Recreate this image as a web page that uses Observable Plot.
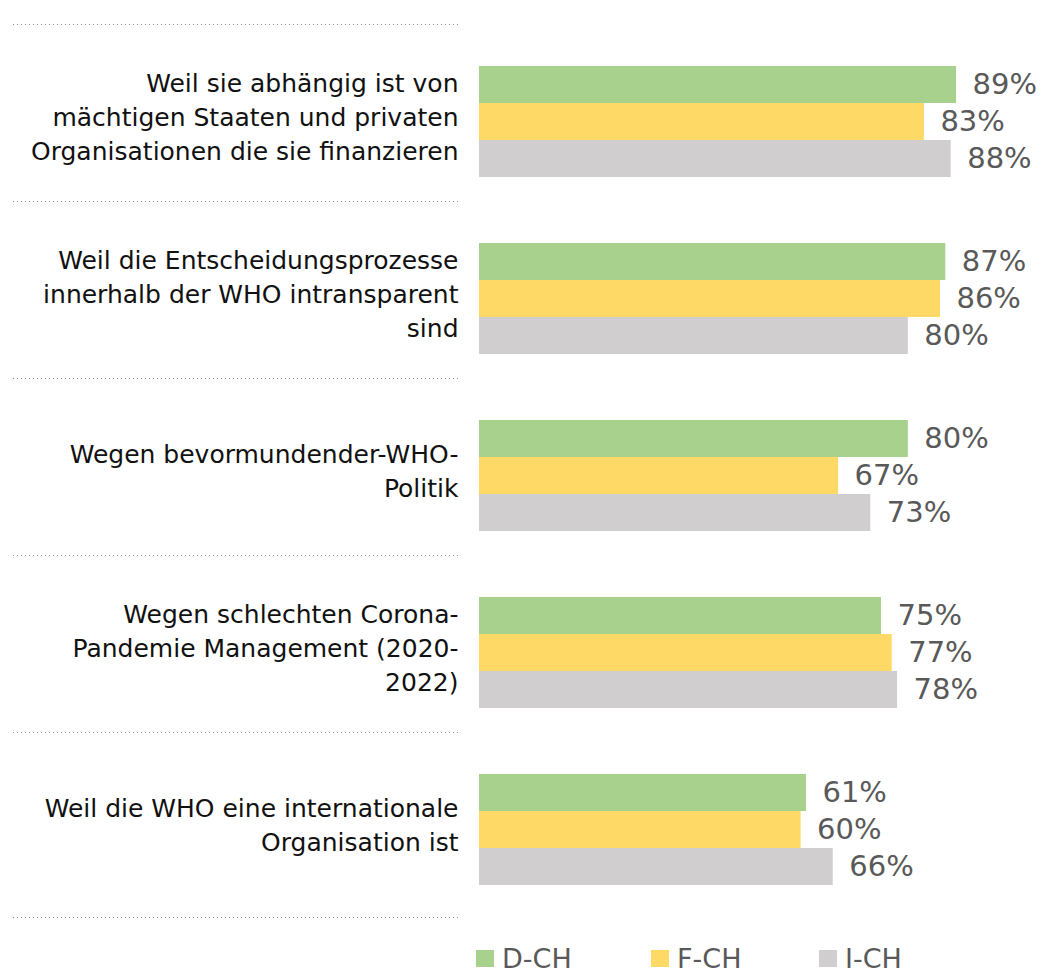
<!DOCTYPE html>
<html>
<head>
<meta charset="utf-8">
<script src="https://cdn.jsdelivr.net/npm/d3@7"></script>
<script src="https://cdn.jsdelivr.net/npm/@observablehq/plot@0.6"></script>
<style>
  body { margin: 0; background: #fff; font-family: "DejaVu Sans", sans-serif; }
  #chart { position: relative; width: 1041px; }
  #legend { position: relative; width: 1041px; height: 40px; }
  .item { position: absolute; top: 0; display: flex; align-items: center; height: 36px; font-size: 27px; color: #595959; }
  .swatch { width: 18px; height: 17px; margin-right: 8px; }
</style>
</head>
<body>
<div id="chart"></div>
<div id="legend"></div>
<script>
const categories = [
  "Weil sie abhängig ist von\nmächtigen Staaten und privaten\nOrganisationen die sie finanzieren",
  "Weil die Entscheidungsprozesse\ninnerhalb der WHO intransparent\nsind",
  "Wegen bevormundender-WHO-\nPolitik",
  "Wegen schlechten Corona-\nPandemie Management (2020-\n2022)",
  "Weil die WHO eine internationale\nOrganisation ist"
];
const series = ["D-CH", "F-CH", "I-CH"];
const valuesDCH = [89, 87, 80, 75, 61];
const valuesFCH = [83, 86, 67, 77, 60];
const valuesICH = [88, 80, 73, 78, 66];
const colors = ["#A9D18E", "#FFD966", "#D0CECE"];

const seriesValues = [valuesDCH, valuesFCH, valuesICH];
const data = [];
categories.forEach((c, i) => {
  series.forEach((s, j) => data.push({category: c, series: s, value: seriesValues[j][i]}));
});

const font = '"DejaVu Sans", sans-serif';

const chart = Plot.plot({
  width: 1041,
  height: 935,
  marginLeft: 479,
  marginRight: 26,
  marginTop: 64,
  marginBottom: 49,
  style: {fontFamily: font, background: "#fff"},
  x: {domain: [0, 100], axis: null},
  y: {domain: series, axis: null, padding: 0},
  fy: {domain: categories, axis: null, paddingInner: 0.3755, paddingOuter: 0},
  color: {domain: series, range: colors},
  marks: [
    Plot.barX(data, {fy: "category", y: "series", x: "value", fill: "series"}),
    Plot.text(data, {
      fy: "category", y: "series", x: "value",
      text: d => d.value + "%",
      textAnchor: "start", dx: 16, fontSize: 29, fill: "#595959"
    }),
    Plot.text(categories, {
      fy: d => d, y: () => series[1], frameAnchor: "left",
      text: d => d, textAnchor: "end", dx: -21, dy: -7,
      fontSize: 25, lineHeight: 1.36, fill: "#111"
    }),
    Plot.ruleY(categories, {
      fy: d => d, y: () => series[0], dy: -60.5,
      insetLeft: -466, insetRight: 557,
      stroke: "#8c8c8c", strokeWidth: 1, strokeDasharray: "1,3"
    }),
    Plot.ruleY(categories.slice(-1), {
      fy: d => d, y: () => series[2], dy: 50.5,
      insetLeft: -466, insetRight: 557,
      stroke: "#8c8c8c", strokeWidth: 1, strokeDasharray: "1,3"
    })
  ]
});
document.getElementById("chart").appendChild(chart);

const legendLeft = [476, 651, 819];
const legend = document.getElementById("legend");
series.forEach((s, j) => {
  const item = document.createElement("div");
  item.className = "item";
  item.style.left = legendLeft[j] + "px";
  item.style.top = "5px";
  const sw = document.createElement("div");
  sw.className = "swatch";
  sw.style.background = colors[j];
  const lab = document.createElement("span");
  lab.textContent = s;
  item.appendChild(sw);
  item.appendChild(lab);
  legend.appendChild(item);
});
</script>
</body>
</html>
